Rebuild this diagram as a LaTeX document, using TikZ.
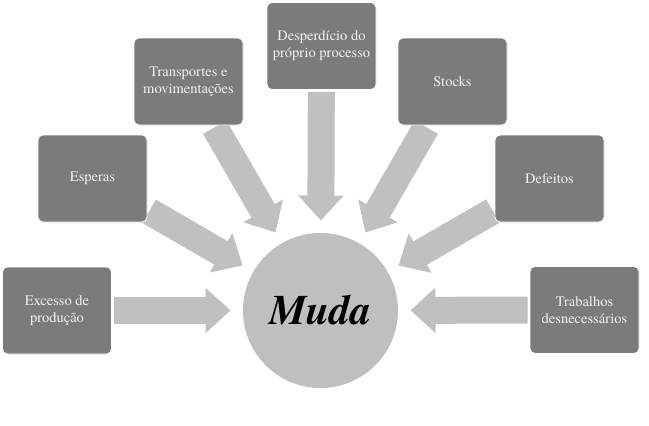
\documentclass[tikz,border=0pt]{standalone}
\usepackage{fontspec}
\setmainfont{texgyretermes}[Extension=.otf, UprightFont=*-regular, BoldFont=*-bold, ItalicFont=*-italic, BoldItalicFont=*-bolditalic]
\usetikzlibrary{arrows.meta,calc}
\definecolor{boxgray}{HTML}{7B7B7B}
\definecolor{arrgray}{HTML}{C0C0C0}
\definecolor{circgray}{HTML}{BFBFBF}
\definecolor{boxtext}{HTML}{F2F2F2}
\tikzset{
  wbox/.style={rectangle, rounded corners=5pt, fill=boxgray, draw=white, line width=0.8pt,
    minimum width=109pt, minimum height=87pt, inner sep=0pt, align=center,
    text=boxtext, font=\fontsize{14.5}{17}\selectfont},
  blk/.style={draw=arrgray, line width=27pt, shorten <=2pt,
    -{Triangle[length=25pt,width=44pt]}},
  mudanode/.style={circle, fill=circgray, minimum size=155pt, inner sep=0pt,
    font=\fontsize{42}{42}\selectfont\bfseries\itshape}
}
\begin{document}
\begin{tikzpicture}[x=1pt,y=-1pt]
\useasboundingbox (0,0) rectangle (649,426);
\node[mudanode] (M) at (320.5,310.5) {Muda};
\coordinate (c1) at (57,310.5);
\coordinate (c2) at (92.5,178.5);
\coordinate (c3) at (188.5,81.5);
\coordinate (c4) at (321.5,46);
\coordinate (c5) at (452.5,81.5);
\coordinate (c6) at (549.5,178.5);
\coordinate (c7) at (584.5,310);
\foreach \i in {1,...,7} {
  \coordinate (t\i) at ($(M.center)!90pt!(c\i)$);
}
\node[wbox] (b1) at (c1) {Excesso de\\produção};
\node[wbox] (b2) at (c2) {Esperas};
\node[wbox] (b3) at (c3) {Transportes e\\movimentações};
\node[wbox] (b4) at (c4) {Desperdício do\\próprio processo};
\node[wbox] (b5) at (c5) {Stocks};
\node[wbox] (b6) at (c6) {Defeitos};
\node[wbox] (b7) at (c7) {Trabalhos\\desnecessários};
\foreach \i in {1,...,7} {
  \draw[blk] (b\i) -- (t\i);
}
\node[wbox] at (c1) {Excesso de\\produção};
\node[wbox] at (c2) {Esperas};
\node[wbox] at (c3) {Transportes e\\movimentações};
\node[wbox] at (c4) {Desperdício do\\próprio processo};
\node[wbox] at (c5) {Stocks};
\node[wbox] at (c6) {Defeitos};
\node[wbox] at (c7) {Trabalhos\\desnecessários};
\end{tikzpicture}
\end{document}
